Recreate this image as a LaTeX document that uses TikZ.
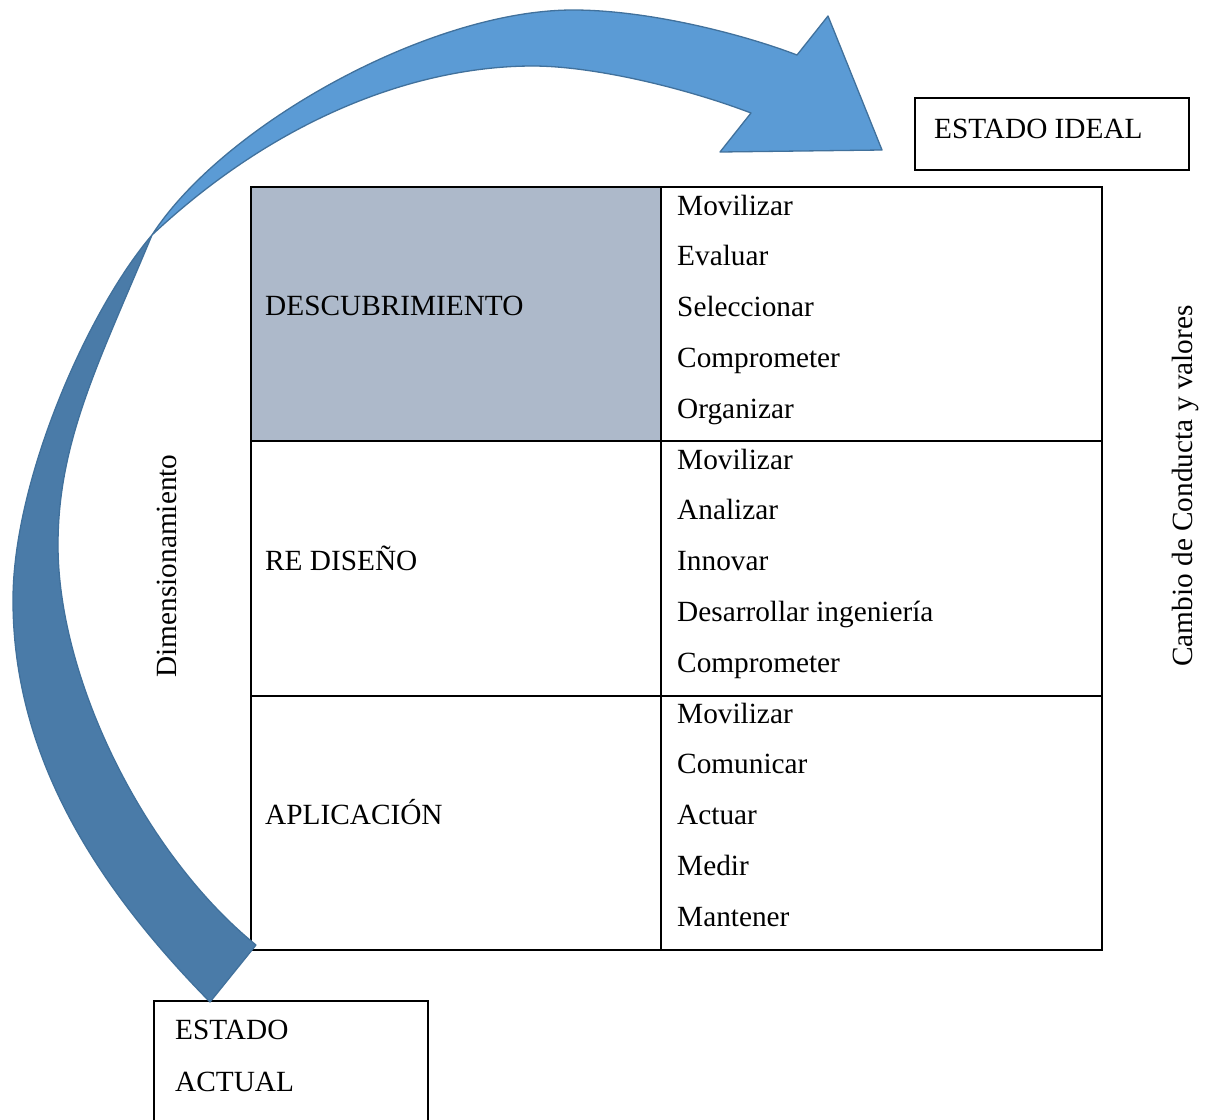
\documentclass[tikz,border=0pt]{standalone}
\usepackage{fontspec}
\setmainfont{Liberation Serif}
\definecolor{graycell}{HTML}{ADB9CA}
\definecolor{upblue}{HTML}{5B9BD5}
\definecolor{lowblue}{HTML}{4A7BA8}
\definecolor{edgeblue}{HTML}{41719C}
\begin{document}
\begin{tikzpicture}[x=1pt,y=-1pt,
  txt/.style={anchor=base west, inner sep=0pt, font=\fontsize{29.3}{35}\selectfont},
  vtxt/.style={anchor=base, inner sep=0pt, rotate=90, font=\fontsize{29.3}{35}\selectfont},
  cellbox/.style={draw, line width=2pt, anchor=north west, inner sep=0pt, outer sep=0pt},
  boxline/.style={draw, line width=1.6pt},
  arrowpart/.style={draw=edgeblue, line width=1.3pt, line join=round}
]
\useasboundingbox (0,0) rectangle (1206,1119);
\clip (0,0) rectangle (1206,1119);

% table cells
\node[cellbox, fill=graycell, minimum width=410pt, minimum height=254pt] (c11) at (251,187) {};
\node[cellbox, minimum width=441pt, minimum height=254pt] (c12) at (661,187) {};
\node[cellbox, minimum width=410pt, minimum height=255pt] (c21) at (251,441) {};
\node[cellbox, minimum width=441pt, minimum height=255pt] (c22) at (661,441) {};
\node[cellbox, minimum width=410pt, minimum height=254pt] (c31) at (251,696) {};
\node[cellbox, minimum width=441pt, minimum height=254pt] (c32) at (661,696) {};

% left column labels
\node[txt] (t1) at (265,315) {DESCUBRIMIENTO};
\node[txt] (t2) at (265,570) {RE DISEÑO};
\node[txt] (t3) at (265,824) {APLICACIÓN};

% right column items
\foreach \k/\w in {0/Movilizar,1/Evaluar,2/Seleccionar,3/Comprometer,4/Organizar,
                   5/Movilizar,6/Analizar,7/Innovar,8/Desarrollar ingeniería,9/Comprometer,
                   10/Movilizar,11/Comunicar,12/Actuar,13/Medir,14/Mantener}{
  \node[txt] (r\k) at (677,{215+50.8*\k}) {\w};
}

% state boxes
\node[txt] (ideal) at (934,138) {ESTADO IDEAL};
\draw[boxline] (915,98) rectangle (1189,170);
\node[txt] (act1) at (175,1039) {ESTADO};
\node[txt] (act2) at (175,1091) {ACTUAL};
\draw[boxline] (154,1130) |- (428,1001) -- (428,1130);

% side labels
\node[vtxt] (dim) at (176,566) {Dimensionamiento};
\node[vtxt] (camb) at (1192,486) {Cambio de Conducta y valores};

% curved arrow: lower (back) part
\coordinate (tailA) at (210,1002);
\coordinate (tailB) at (256,945);
\coordinate (cross) at (152,235);
\filldraw[arrowpart, fill=lowblue]
  (tailA) .. controls (100,890) and (13,760) .. (13,600)
  .. controls (13,480) and (88,310) .. (cross)
  .. controls (100,360) and (58,440) .. (58,545)
  .. controls (58,680) and (145,855) .. (tailB)
  -- cycle;
% curved arrow: upper (front) part with head
\filldraw[arrowpart, fill=upblue]
  (cross) .. controls (223,125) and (430,10) .. (573,10)
  .. controls (650,10) and (745,35) .. (797,55)
  -- (828,16) -- (882,150) -- (720,152) -- (751,113)
  .. controls (680,86) and (590,66) .. (533,66)
  .. controls (420,66) and (280,115) .. (cross)
  -- cycle;
\end{tikzpicture}
\end{document}
